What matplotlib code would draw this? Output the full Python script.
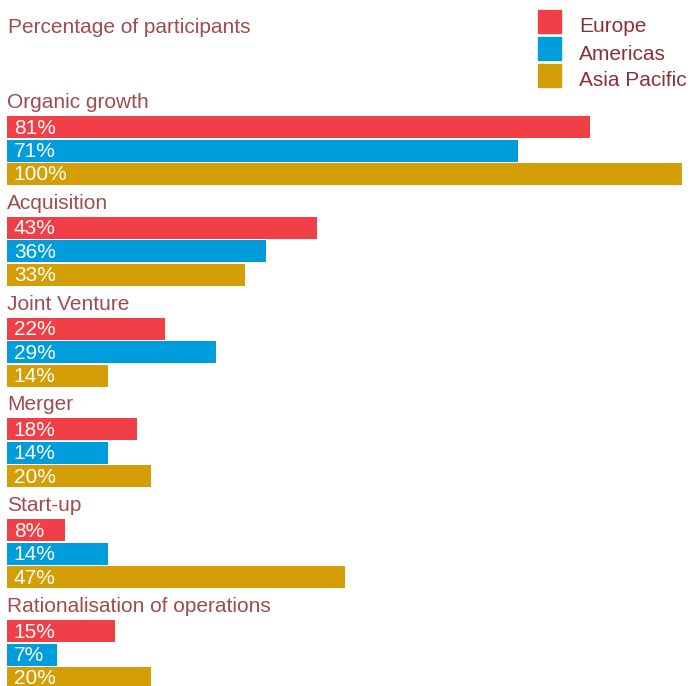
import matplotlib
matplotlib.use("Agg")
import matplotlib.pyplot as plt
from matplotlib.patches import Rectangle

plt.rcParams['font.family'] = ['Liberation Sans', 'DejaVu Sans']

# Survey results, percent of participants per region
categories = ["Organic growth", "Acquisition", "Joint Venture", "Merger",
              "Start-up", "Rationalisation of operations"]
regions = ["Europe", "Americas", "Asia Pacific"]
europe = [81, 43, 22, 18, 8, 15]
americas = [71, 36, 29, 14, 14, 7]
asia_pacific = [100, 33, 14, 20, 47, 20]

series = [europe, americas, asia_pacific]
colors = ["#F03F46", "#009DDC", "#D49F06"]
label_color = "#A04B4E"
legend_color = "#8E3038"

W, H = 690, 686
fig = plt.figure(figsize=(W / 100, H / 100), dpi=100)

# bar area: x in percent, y in pixel rows from the top
left_px, right_px = 7, 682
px_per_pct = 7.2
ax = fig.add_axes([left_px / W, 0, (right_px - left_px) / W, 1])
ax.set_xlim(0, (right_px - left_px) / px_per_pct)
ax.set_ylim(H, 0)
ax.axis("off")

first_top = 116
group_step = 100.8
bar_step = 23.5
bar_h = 22

for i, cat in enumerate(categories):
    top = first_top + i * group_step
    ax.text(0, top - 8, cat, color=label_color, fontsize=15,
            va="baseline", ha="left", clip_on=False)
    for j, vals in enumerate(series):
        y = top + j * bar_step + bar_h / 2
        ax.barh(y, vals[i], height=bar_h, color=colors[j], left=0)
        ax.text(0.95, y + bar_h / 2 - 4.5, f"{vals[i]}%", color="white",
                fontsize=15, va="baseline", ha="left")

fig.text(8 / W, 1 - 33 / H, "Percentage of participants", color=label_color,
         fontsize=15, va="baseline", ha="left")

# legend drawn by hand in figure pixels
for k, (name, c) in enumerate(zip(regions, colors)):
    y0 = 10 + k * 27
    fig.patches.append(Rectangle((538 / W, 1 - (y0 + 23) / H), 23 / W, 23 / H,
                                 transform=fig.transFigure, color=c))
    fig.text(579 / W, 1 - (y0 + 22.5) / H, name, color=legend_color,
             fontsize=15, va="baseline", ha="left")

fig.savefig("out.png", dpi=100)
